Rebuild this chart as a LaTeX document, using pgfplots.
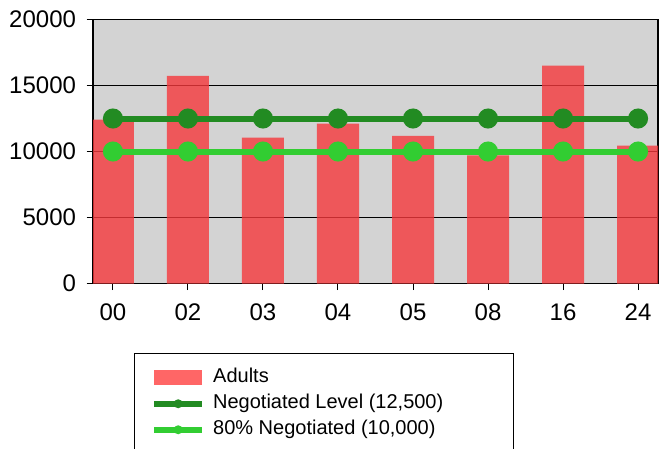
\documentclass[border=0pt]{standalone}
\usepackage{fontspec}
\setmainfont{Liberation Sans}
\usepackage{pgfplots}
\pgfplotsset{compat=1.18}
\definecolor{bgray}{RGB}{211,211,211}
\definecolor{barred}{RGB}{245,57,60}
\definecolor{legred}{RGB}{255,102,102}
\definecolor{dgreen}{RGB}{34,139,34}
\definecolor{lgreen}{RGB}{50,205,50}
\begin{document}
\begin{tikzpicture}
\useasboundingbox (0pt,0pt) rectangle (659pt,-448pt);
\begin{axis}[
  at={(93pt,-283.5pt)}, anchor=south west,
  scale only axis, width=565pt, height=264pt,
  xmin=-0.266, xmax=7.266, ymin=0, ymax=20000,
  axis background/.style={fill=bgray},
  axis line style={black, line width=1.3pt},
  ymajorgrids, grid style={black, line width=0.9pt},
  tick align=outside, tick pos=left,
  major tick length=6.5pt,
  tick style={black, line width=1pt},
  xtick={0,1,2,3,4,5,6,7},
  xticklabels={00,02,03,04,05,08,16,24},
  ytick={0,5000,10000,15000,20000},
  scaled y ticks=false,
  /pgf/number format/1000 sep={},
  /pgf/number format/assume math mode=true,
  tick label style={font=\fontsize{24}{28}\selectfont},
  yticklabel style={xshift=-7pt},
  xticklabel style={yshift=-10pt},
  legend cell align=left,
  legend style={at={(0.0726,-0.2625)}, anchor=north west,
    draw=black, line width=1.3pt, fill=white,
    inner xsep=16.5pt, inner ysep=15.3pt,
    row sep=8pt, column sep=8pt,
    font=\fontsize{20}{22}\selectfont,
    nodes={inner sep=0pt, text height=14pt, text depth=4pt}},
]
\addplot[ybar, bar width=0.56, bar shift=0pt, fill=barred, fill opacity=0.8, draw=none,
  legend image code/.code={\fill[legred, draw=none, fill opacity=1] (0pt,-7.5pt) rectangle (48pt,7.5pt);}]
  coordinates {(0,12420) (1,15730) (2,11060) (3,12120) (4,11180) (5,9700) (6,16510) (7,10450)};
\addlegendentry{\makebox[284pt][l]{Adults}}
\addplot[dgreen, line width=6pt, mark=*, mark size=7pt, mark options={fill=dgreen, draw=none},
  legend image code/.code={\draw[dgreen, line width=6pt] (0pt,0pt) -- (48pt,0pt); \path[fill=dgreen, draw=none] (24pt,0pt) circle (4.5pt);}]
  coordinates {(0,12500) (1,12500) (2,12500) (3,12500) (4,12500) (5,12500) (6,12500) (7,12500)};
\addlegendentry{\makebox[284pt][l]{Negotiated Level (12,500)}}
\addplot[lgreen, line width=6pt, mark=*, mark size=7pt, mark options={fill=lgreen, draw=none},
  legend image code/.code={\draw[lgreen, line width=6pt] (0pt,0pt) -- (48pt,0pt); \path[fill=lgreen, draw=none] (24pt,0pt) circle (4.5pt);}]
  coordinates {(0,10000) (1,10000) (2,10000) (3,10000) (4,10000) (5,10000) (6,10000) (7,10000)};
\addlegendentry{\makebox[284pt][l]{80\% Negotiated (10,000)}}
\end{axis}
\end{tikzpicture}
\end{document}
